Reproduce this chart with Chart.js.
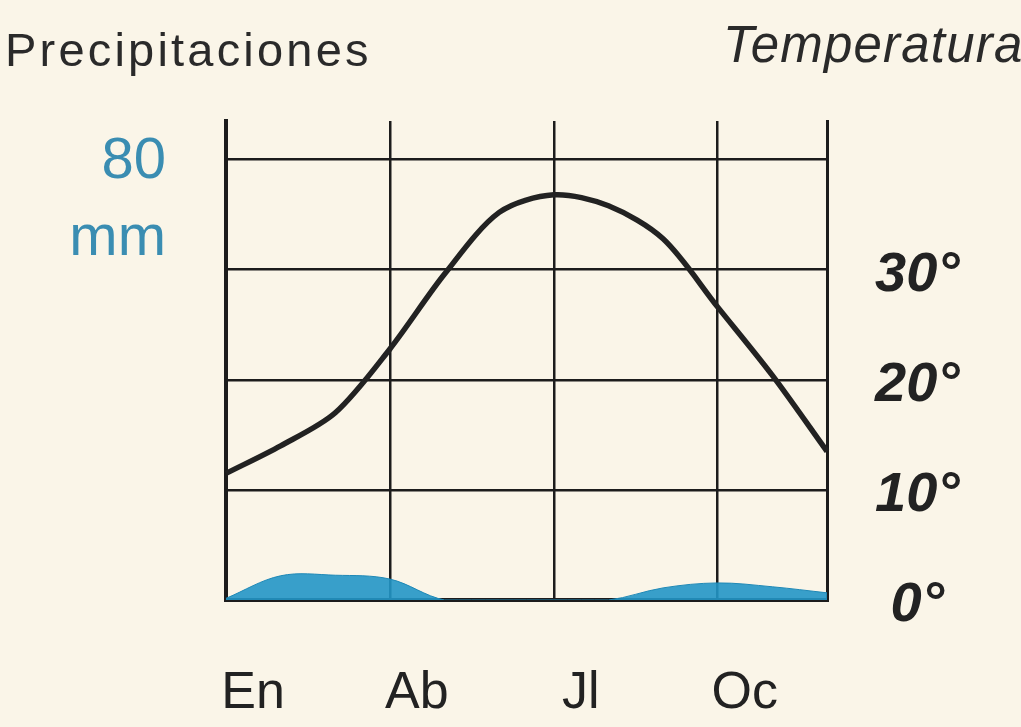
<!DOCTYPE html>
<html>
<head>
<meta charset="utf-8">
<script src="https://cdn.jsdelivr.net/npm/chart.js@4.4.1/dist/chart.umd.min.js"></script>
<style>
    html, body { margin: 0; padding: 0; background: #faf5e8; }
    #wrap { width: 1021px; height: 727px; position: relative; }
</style>
</head>
<body>
<div id="wrap"><canvas id="climaChart"></canvas></div>
<script>
        // Datos del climograma
        const months = ['En', 'Fe', 'Mz', 'Ab', 'My', 'Jn', 'Jl', 'Ag', 'Se', 'Oc', 'No', 'Di'];
        const shownMonths = ['En', 'Ab', 'Jl', 'Oc'];
        const temperatura = [11.5, 14, 17, 22.8, 29.6, 35.2, 36.8, 35.8, 32.8, 26.6, 20.4, 13.5];
        const precipitaciones = [0.3, 4.4, 4.5, 3.8, 0, 0, 0, 0, 2.2, 3.1, 2.4, 1.3];
        const tempTicks = ['0°', '10°', '20°', '30°'];
        const precipTicks = { 80: ['80', 'mm'] };

        const ink = '#1c1c1c';

        // Sin relleno extra por las etiquetas: el área del gráfico queda fija
        function noPad(s) {
            s.paddingTop = 0;
            s.paddingBottom = 0;
            s.paddingLeft = 0;
            s.paddingRight = 0;
        }

        // Cabeceras de los ejes
        const headers = {
            id: 'headers',
            afterDraw(chart) {
                const c = chart.ctx;
                c.save();
                c.fillStyle = '#2a2a2a';
                c.textBaseline = 'alphabetic';
                c.font = '47px "Liberation Sans", Arial, sans-serif';
                c.letterSpacing = '3.2px';
                c.fillText('Precipitaciones', 5, 66);
                c.font = 'italic 51px "Liberation Sans", Arial, sans-serif';
                c.letterSpacing = '1.2px';
                c.fillText('Temperatura', 723, 62);
                c.restore();
            }
        };

        const ctx = document.getElementById('climaChart').getContext('2d');
        new Chart(ctx, {
            type: 'line',
            data: {
                labels: months,
                datasets: [{
                    label: 'Temperatura',
                    data: temperatura,
                    yAxisID: 'yT',
                    borderColor: '#222',
                    borderWidth: 5.5,
                    tension: 0.3,
                    pointRadius: 0,
                    fill: false,
                    order: 1
                }, {
                    label: 'Precipitaciones',
                    data: precipitaciones,
                    yAxisID: 'yP',
                    borderColor: '#1f88b6',
                    borderWidth: 1,
                    backgroundColor: 'rgba(34, 150, 198, 0.9)',
                    tension: 0.35,
                    pointRadius: 0,
                    fill: 'origin',
                    order: 2
                }]
            },
            options: {
                responsive: true,
                maintainAspectRatio: false,
                animation: false,
                layout: { padding: { top: 121, left: 0, right: 0, bottom: 0 } },
                plugins: {
                    legend: { display: false },
                    tooltip: { enabled: false }
                },
                scales: {
                    x: {
                        afterFit: s => { s.height = 127; noPad(s); },
                        border: { color: ink, width: 4 },
                        grid: {
                            drawTicks: false,
                            color: c => [3, 6, 9].includes(c.index) ? ink : 'transparent',
                            lineWidth: 2.5
                        },
                        ticks: {
                            autoSkip: false,
                            maxRotation: 0,
                            minRotation: 0,
                            padding: 62,
                            labelOffset: 27,
                            color: '#222',
                            font: { family: '"Liberation Sans", Arial, sans-serif', size: 52 },
                            callback: (v, i) => shownMonths.includes(months[i]) ? months[i] : ''
                        }
                    },
                    yP: {
                        position: 'left',
                        min: 0,
                        max: 87,
                        afterFit: s => { s.width = 226; noPad(s); },
                        border: { color: ink, width: 4 },
                        grid: { display: false, drawTicks: false },
                        ticks: {
                            stepSize: 20,
                            includeBounds: false,
                            padding: 60,
                            labelOffset: 41,
                            color: '#3a8db2',
                            font: { family: '"Liberation Sans", Arial, sans-serif', size: 58, lineHeight: 1.33 },
                            callback: v => precipTicks[v] || ''
                        }
                    },
                    yT: {
                        position: 'right',
                        min: 0,
                        max: 43.5,
                        afterFit: s => { s.width = 194; noPad(s); },
                        border: { color: ink, width: 3 },
                        grid: {
                            drawTicks: false,
                            color: ink,
                            lineWidth: c => c.tick && c.tick.value === 0 ? 4 : 2.5
                        },
                        ticks: {
                            stepSize: 10,
                            includeBounds: false,
                            padding: 48,
                            crossAlign: 'center',
                            labelOffset: 6,
                            color: '#222',
                            font: { family: '"Liberation Sans", Arial, sans-serif', size: 56, style: 'italic', weight: 'bold' },
                            callback: v => tempTicks[v / 10] || ''
                        }
                    }
                }
            },
            plugins: [headers]
        });
</script>
</body>
</html>
